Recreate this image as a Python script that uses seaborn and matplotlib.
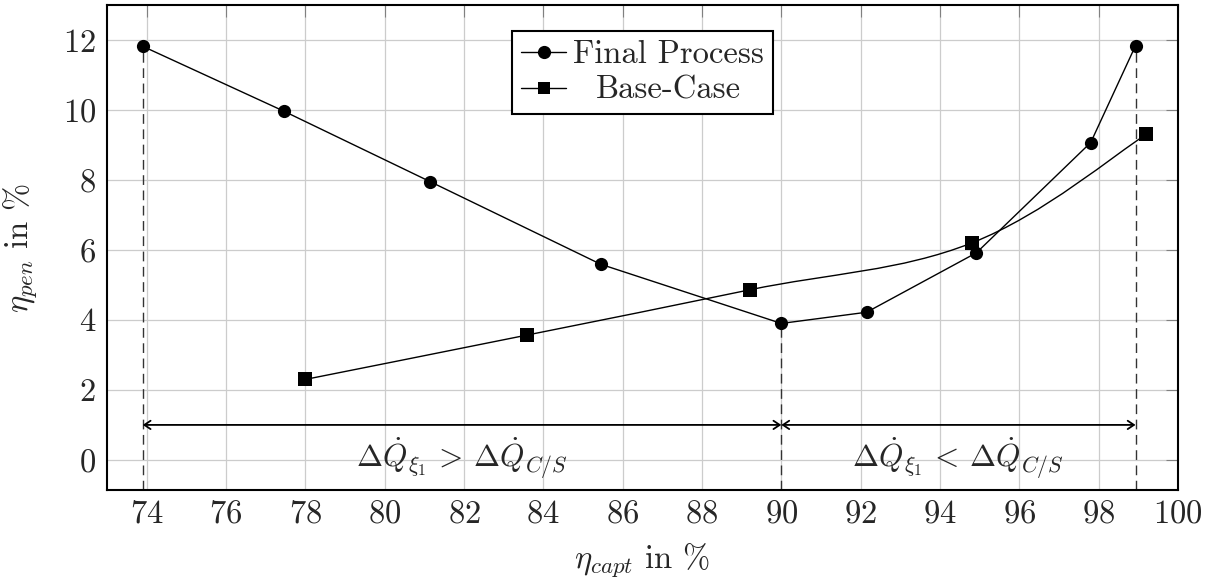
import numpy as np
import pandas as pd
import matplotlib
matplotlib.use("Agg")
import matplotlib.pyplot as plt
import seaborn as sns
from matplotlib.path import Path
from matplotlib.patches import PathPatch
from matplotlib.lines import Line2D
from matplotlib.transforms import Affine2D

# Capture efficiency (%) vs. penalty (%) for both process variants
final_capt = [73.9, 77.45, 81.15, 85.45, 90.0, 92.15, 94.92, 97.8, 98.93]
final_pen = [11.82, 9.97, 7.95, 5.59, 3.9, 4.22, 5.92, 9.07, 11.84]
base_capt = [78.0, 83.6, 89.2, 94.8, 99.2]
base_pen = [2.3, 3.57, 4.86, 6.2, 9.3]

series_names = ["Final Process", "Base-Case"]
x_ticks = list(range(74, 101, 2))
y_ticks = list(range(0, 13, 2))
arrow_level = 1.0
region_labels = [r"$\Delta\dot{Q}_{\xi_1}\,>\,\Delta\dot{Q}_{C/S}$",
                 r"$\Delta\dot{Q}_{\xi_1}\,<\,\Delta\dot{Q}_{C/S}$"]

sns.set_theme(style="whitegrid")
plt.rcParams.update({
    "font.family": ["cmr10"],
    "mathtext.fontset": "cm",
    "axes.formatter.use_mathtext": True,
    "font.size": 23.5,
    "axes.unicode_minus": False,
})

fig = plt.figure(figsize=(12.16, 5.80), dpi=100)
ax = fig.add_axes([107 / 1216, 90 / 580, 1071 / 1216, 485 / 580])
ax.set_facecolor("white")

final_df = pd.DataFrame({"capt": final_capt, "pen": final_pen})
base_df = pd.DataFrame({"capt": base_capt, "pen": base_pen})

# Final process: straight segments with round markers
sns.lineplot(data=final_df, x="capt", y="pen", ax=ax, color="black", lw=1.0,
             marker="o", markersize=9.5, markeredgewidth=0, zorder=4)

# Base case: smooth curve through the points (cubic Bezier, tension 0.55)
def smooth_path(xs, ys, tension=0.55):
    pts = np.column_stack([xs, ys]).astype(float)
    k = tension / 3.0
    n = len(pts)
    verts = [pts[0]]
    codes = [Path.MOVETO]
    for i in range(n - 1):
        p0, p1 = pts[i], pts[i + 1]
        prev = pts[i - 1] if i > 0 else pts[i]
        nxt = pts[i + 2] if i + 2 < n else pts[i + 1]
        c1 = p0 + k * (p1 - prev)
        c2 = p1 - k * (nxt - p0)
        verts += [c1, c2, p1]
        codes += [Path.CURVE4] * 3
    return Path(verts, codes)

ax.add_patch(PathPatch(smooth_path(base_capt, base_pen), facecolor="none",
                       edgecolor="black", lw=1.0, zorder=4))
sns.scatterplot(data=base_df, x="capt", y="pen", ax=ax, color="black",
                marker="s", s=95, linewidth=0, zorder=5)

ax.set_xlim(73.0, 100.0)
ax.set_ylim(-0.86, 13.0)
ax.set_xticks(x_ticks)
ax.set_yticks(y_ticks)

# Dashed guides at the first point, the minimum and the last point
i_min = int(np.argmin(final_pen))
guide_x = [final_capt[0], final_capt[i_min], final_capt[-1]]
guide_top = [final_pen[0], final_pen[i_min], final_pen[-1]]
ax.vlines(guide_x, ymin=-0.86, ymax=guide_top, colors="#333333", lw=1.0,
          linestyles=(0, (7, 4)), zorder=3)

# Range arrows
arrow_kw = dict(arrowstyle="<->,head_length=0.45,head_width=0.3",
                lw=1.3, color="black", shrinkA=0, shrinkB=0, mutation_scale=10)
ax.annotate("", xy=(guide_x[0], arrow_level), xytext=(guide_x[1], arrow_level),
            arrowprops=arrow_kw, zorder=4)
ax.annotate("", xy=(guide_x[2], arrow_level), xytext=(guide_x[1], arrow_level),
            arrowprops=arrow_kw, zorder=4)
ax.text((guide_x[0] + guide_x[1]) / 2, -0.23, region_labels[0],
        ha="center", va="baseline", fontsize=22.5, zorder=6)
ax.text((guide_x[1] + guide_x[2]) / 2, -0.23, region_labels[1],
        ha="center", va="baseline", fontsize=22.5, zorder=6)

# Axes styling
ax.grid(True, color="#cccccc", lw=0.9)
ax.set_axisbelow(True)
for sp in ax.spines.values():
    sp.set_color("black")
    sp.set_linewidth(1.5)
    sp.set_zorder(7)
ax.tick_params(axis="both", direction="in", length=8.6, width=0.8,
               color="#808080", top=True, right=True, labelsize=23.5)
ax.tick_params(axis="x", pad=6.8)
ax.tick_params(axis="y", pad=8.0)
ax.set_xlabel(r"$\eta_{capt}$ in %", fontsize=23.5, labelpad=9)
ax.set_ylabel(r"$\eta_{pen}$ in %", fontsize=23.5, labelpad=17)

# Legend
handles = [Line2D([], [], color="black", lw=1.0, marker="o", markersize=9.5,
                  markeredgewidth=0),
           Line2D([], [], color="black", lw=1.0, marker="s", markersize=8.5,
                  markeredgewidth=0)]
leg = ax.legend(handles, series_names, loc="upper center",
                bbox_to_anchor=(0.5, 0.946), frameon=True, fancybox=False,
                edgecolor="black", framealpha=1, facecolor="white",
                handlelength=1.38, handletextpad=0.2, borderpad=0.28,
                labelspacing=0.2, borderaxespad=0, fontsize=23.5)
leg.get_frame().set_linewidth(1.5)
leg.set_zorder(8)

# Center the shorter legend entry under the longer one
fig.canvas.draw()
renderer = fig.canvas.get_renderer()
texts = leg.get_texts()
widths = [t.get_window_extent(renderer).width for t in texts]
dx = (max(widths) - widths[1]) / 2
texts[1].set_transform(texts[1].get_transform() + Affine2D().translate(dx, 0))

fig.savefig("out.png", dpi=100, facecolor="white")
